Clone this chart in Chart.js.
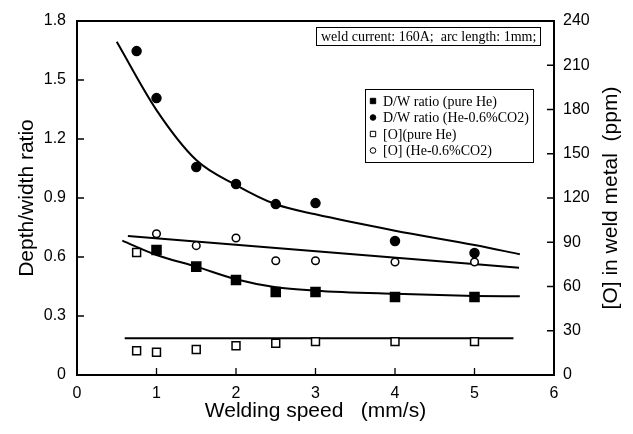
<!DOCTYPE html>
<html>
<head>
<meta charset="utf-8">
<script src="https://cdn.jsdelivr.net/npm/chart.js@4/dist/chart.umd.min.js"></script>
<style>
  html, body { margin: 0; padding: 0; background: #fff; }
</style>
</head>
<body>
<canvas id="chart" width="633" height="434"></canvas>
<script>
// measured points (welding speed in mm/s)
const speedDwHe = [1, 1.5, 2, 2.5, 3, 4, 5];
const dwHe = [0.636, 0.551, 0.483, 0.422, 0.422, 0.397, 0.397];

const speedDwCo2 = [0.75, 1, 1.5, 2, 2.5, 3, 4, 5];
const dwCo2 = [1.647, 1.408, 1.057, 0.971, 0.869, 0.874, 0.681, 0.62];

const speedOHe = [0.75, 0.75, 1, 1.5, 2, 2.5, 3, 4, 5];
const oHe = [83, 16.4, 15.4, 17.3, 19.8, 21.5, 22.6, 22.6, 22.6];

const speedOCo2 = [1, 1.5, 2, 2.5, 3, 4, 5];
const oCo2 = [95.8, 87.7, 92.9, 77.5, 77.5, 76.6, 76.6];

// fitted curves
const fitDwCo2X = [0.5, 1, 1.5, 2, 2.5, 3, 4, 5, 5.57];
const fitDwCo2Y = [1.694, 1.347, 1.093, 0.966, 0.868, 0.817, 0.734, 0.661, 0.614];
const fitDwHeX = [0.57, 1, 1.5, 2, 2.5, 3, 4, 5, 5.57];
const fitDwHeY = [0.683, 0.61, 0.551, 0.487, 0.446, 0.429, 0.413, 0.402, 0.4];
const fitOCo2X = [0.64, 5.56];
const fitOCo2Y = [94.2, 72.7];
const fitOHeX = [0.6, 5.49];
const fitOHeY = [25, 25];

const xTicks = [0, 1, 2, 3, 4, 5, 6];
const annotationText = 'weld current: 160A;  arc length: 1mm;';

const pairs = (xs, ys) => xs.map((x, i) => ({ x: x, y: ys[i] }));

const SERIF = '"Liberation Serif", "Times New Roman", serif';
const SANS = '"Liberation Sans", Arial, sans-serif';

function markers(label, xs, ys, axis, style, filled, radius) {
    return {
        label: label,
        data: pairs(xs, ys),
        yAxisID: axis,
        showLine: false,
        pointStyle: style,
        pointRadius: radius,
        pointHoverRadius: radius,
        pointBackgroundColor: filled ? '#000' : '#fff',
        pointBorderColor: '#000',
        pointBorderWidth: 1.5,
        order: 1
    };
}

function curve(xs, ys, axis) {
    return {
        label: '',
        data: pairs(xs, ys),
        yAxisID: axis,
        showLine: true,
        borderColor: '#000',
        borderWidth: 2,
        pointRadius: 0,
        cubicInterpolationMode: 'monotone',
        fill: false,
        order: 2
    };
}

// inward tick marks, top frame line, right title, legend and note box
const framePlugin = {
    id: 'frame',
    afterDraw(chart) {
        const ctx = chart.ctx;
        const area = chart.chartArea;
        const sx = chart.scales.x, sy = chart.scales.y, sy1 = chart.scales.y1;
        ctx.save();
        ctx.strokeStyle = '#000';
        ctx.lineWidth = 1.3;
        ctx.beginPath();
        xTicks.forEach(v => {
            const px = sx.getPixelForValue(v);
            ctx.moveTo(px, area.bottom);
            ctx.lineTo(px, area.bottom - 7);
        });
        sy.ticks.forEach(t => {
            const py = sy.getPixelForValue(t.value);
            ctx.moveTo(area.left, py);
            ctx.lineTo(area.left + 7, py);
        });
        sy1.ticks.forEach(t => {
            const py = sy1.getPixelForValue(t.value);
            ctx.moveTo(area.right, py);
            ctx.lineTo(area.right - 7, py);
        });
        ctx.stroke();

        // top frame
        ctx.lineWidth = 2;
        ctx.beginPath();
        ctx.moveTo(area.left - 1, area.top);
        ctx.lineTo(area.right + 1, area.top);
        ctx.stroke();

        // right axis title reads bottom to top
        ctx.fillStyle = '#000';
        ctx.font = '21px ' + SANS;
        ctx.textAlign = 'center';
        ctx.textBaseline = 'middle';
        ctx.translate(611, (area.top + area.bottom) / 2);
        ctx.rotate(-Math.PI / 2);
        ctx.fillText('[O] in weld metal  (ppm)', 0, 0);
        ctx.restore();

        // note box
        ctx.save();
        ctx.strokeStyle = '#000';
        ctx.lineWidth = 1;
        ctx.strokeRect(316.5, 27.5, 224, 18);
        ctx.fillStyle = '#000';
        ctx.font = '14px ' + SERIF;
        ctx.textBaseline = 'middle';
        ctx.fillText(annotationText, 321, 37);

        // legend
        ctx.strokeRect(365.5, 89.5, 168, 73);
        const rowY = [101, 117.5, 134, 150.5];
        chart.data.datasets.slice(0, 4).forEach((ds, i) => {
            ctx.fillStyle = ds.pointBackgroundColor;
            ctx.strokeStyle = '#000';
            ctx.lineWidth = 1;
            const r = ds.pointStyle === 'rect' ? 3.8 : 2.8;
            Chart.helpers.drawPoint(ctx, { pointStyle: ds.pointStyle, radius: r, borderWidth: 1 }, 373, rowY[i]);
            ctx.fillStyle = '#000';
            ctx.fillText(ds.label, 383, rowY[i] + 1);
        });
        ctx.restore();
    }
};

new Chart(document.getElementById('chart'), {
    type: 'scatter',
    data: {
        datasets: [
            markers('D/W ratio (pure He)', speedDwHe, dwHe, 'y', 'rect', true, 6.4),
            markers('D/W ratio (He-0.6%CO2)', speedDwCo2, dwCo2, 'y', 'circle', true, 4.5),
            markers('[O](pure He)', speedOHe, oHe, 'y1', 'rect', false, 5.6),
            markers('[O] (He-0.6%CO2)', speedOCo2, oCo2, 'y1', 'circle', false, 3.8),
            curve(fitDwCo2X, fitDwCo2Y, 'y'),
            curve(fitDwHeX, fitDwHeY, 'y'),
            curve(fitOCo2X, fitOCo2Y, 'y1'),
            curve(fitOHeX, fitOHeY, 'y1')
        ]
    },
    options: {
        responsive: false,
        animation: false,
        layout: { padding: { top: 21, left: 0, right: 0, bottom: 0 } },
        plugins: {
            legend: { display: false },
            tooltip: { enabled: false }
        },
        scales: {
            x: {
                type: 'linear',
                min: 0,
                max: 6,
                afterFit: s => { s.height = 59; },
                afterBuildTicks: s => { s.ticks = xTicks.map(v => ({ value: v })); },
                grid: { display: false, drawTicks: false },
                border: { display: true, color: '#000', width: 2 },
                ticks: { color: '#000', padding: 9, font: { family: SANS, size: 16 } },
                title: {
                    display: true,
                    text: 'Welding speed   (mm/s)',
                    color: '#000',
                    font: { family: SANS, size: 21 },
                    padding: { top: 0, bottom: 10 }
                }
            },
            y: {
                position: 'left',
                min: 0,
                max: 1.8,
                afterFit: s => { s.width = 77; },
                grid: { display: false, drawTicks: false },
                border: { display: true, color: '#000', width: 2 },
                ticks: {
                    stepSize: 0.3,
                    color: '#000',
                    padding: 11,
                    font: { family: SANS, size: 16 },
                    callback: v => String(Math.round(v * 10) / 10)
                },
                title: {
                    display: true,
                    text: 'Depth/width ratio',
                    color: '#000',
                    font: { family: SANS, size: 21 },
                    padding: { top: 15, bottom: 0 }
                }
            },
            y1: {
                position: 'right',
                min: 0,
                max: 240,
                afterFit: s => { s.width = 79; },
                grid: { display: false, drawTicks: false },
                border: { display: true, color: '#000', width: 2 },
                ticks: { stepSize: 30, color: '#000', padding: 9, font: { family: SANS, size: 16 } }
            }
        }
    },
    plugins: [framePlugin]
});
</script>
</body>
</html>
